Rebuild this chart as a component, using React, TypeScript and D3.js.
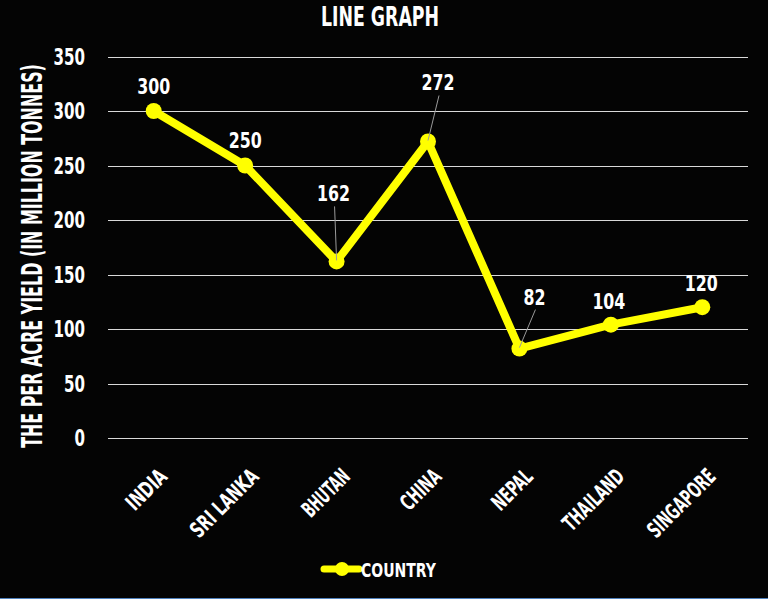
import { useEffect, useRef } from "react";
import * as d3 from "d3";

// data
const countries = ["INDIA", "SRI LANKA", "BHUTAN", "CHINA", "NEPAL", "THAILAND", "SINGAPORE"];
const yieldValues = [300, 250, 162, 272, 82, 104, 120];
const yTicks = [0, 50, 100, 150, 200, 250, 300, 350];
const seriesName = "COUNTRY";

// label placement (layout only): offset from point, and whether a leader line is drawn
const labelNudge: [number, number, boolean][] = [
  [0, -25, false],
  [0, -25, false],
  [-3, -68, true],
  [10, -59, true],
  [15, -52, true],
  [-2, -24, false],
  [-1, -24, false],
];

const W = 768;
const H = 599;
const FONT = "'Liberation Sans Narrow', 'DejaVu Sans Condensed', 'Arial Narrow', sans-serif";
const YELLOW = "#ffff00";

// squeeze a text horizontally (in its own frame) to a wanted width
function squeeze(
  node: SVGTextElement,
  base: string,
  width: number
) {
  const natural = node.getComputedTextLength() || width;
  node.setAttribute("transform", `${base} scale(${width / natural},1)`);
}

export default function App() {
  const svgRef = useRef<SVGSVGElement | null>(null);

  useEffect(() => {
    if (!svgRef.current) return;
    const svg = d3.select(svgRef.current);
    svg.selectAll("*").remove();

    svg.append("rect").attr("width", W).attr("height", H).attr("fill", "#040404");
    svg.append("line")
      .attr("x1", 0).attr("x2", W).attr("y1", H - 0.5).attr("y2", H - 0.5)
      .attr("stroke", "#4f81bd").attr("stroke-width", 1);

    const x = d3.scaleBand<string>().domain(countries).range([108, 748]);
    const y = d3.scaleLinear().domain([0, 350]).range([438, 56.5]);
    const cx = (c: string) => (x(c) ?? 0) + x.bandwidth() / 2;

    // gridlines
    svg.append("g")
      .selectAll("line")
      .data(yTicks)
      .join("line")
      .attr("x1", 108).attr("x2", 748)
      .attr("y1", (d) => Math.round(y(d)) + 0.5)
      .attr("y2", (d) => Math.round(y(d)) + 0.5)
      .attr("stroke", "#d9d9d9").attr("stroke-width", 1);

    // y tick labels
    svg.append("g")
      .selectAll<SVGTextElement, number>("text")
      .data(yTicks)
      .join("text")
      .attr("dy", "0.36em")
      .attr("text-anchor", "end")
      .attr("font-family", FONT).attr("font-weight", "bold").attr("font-size", 23)
      .attr("fill", "#fff")
      .text((d) => d)
      .each(function (d) {
        squeeze(this, `translate(85,${y(d)})`, String(d).length * 10.5);
      });

    // x labels, rotated and squeezed
    svg.append("g")
      .selectAll<SVGTextElement, string>("text")
      .data(countries)
      .join("text")
      .attr("text-anchor", "end")
      .attr("dy", "0.7em")
      .attr("font-family", FONT).attr("font-weight", "bold").attr("font-size", 22)
      .attr("fill", "#fff")
      .text((d) => d)
      .each(function (d) {
        squeeze(this, `translate(${cx(d) + 4},467) rotate(-45)`, d.length * 9.6);
      });

    // titles
    svg.append("text")
      .attr("text-anchor", "middle")
      .attr("font-family", FONT).attr("font-weight", "bold").attr("font-size", 27)
      .attr("fill", "#fff")
      .text("LINE GRAPH")
      .each(function () {
        squeeze(this as SVGTextElement, "translate(380,25.5)", 118);
      });

    svg.append("text")
      .attr("text-anchor", "middle")
      .attr("font-family", FONT).attr("font-weight", "bold").attr("font-size", 28)
      .attr("fill", "#fff")
      .text("THE PER ACRE YIELD (IN MILLION TONNES)")
      .each(function () {
        squeeze(this as SVGTextElement, "translate(42,256) rotate(-90)", 384);
      });

    const pts = countries.map((c, i) => ({ c, v: yieldValues[i], px: cx(c), py: y(yieldValues[i]), n: labelNudge[i] }));

    // line + markers
    const line = d3.line<{ px: number; py: number }>().x((d) => d.px).y((d) => d.py);
    svg.append("path")
      .datum(pts)
      .attr("d", line)
      .attr("fill", "none")
      .attr("stroke", YELLOW).attr("stroke-width", 8)
      .attr("stroke-linejoin", "round").attr("stroke-linecap", "round");

    svg.append("g")
      .selectAll("circle")
      .data(pts)
      .join("circle")
      .attr("cx", (d) => d.px).attr("cy", (d) => d.py).attr("r", 8)
      .attr("fill", YELLOW);

    // leader lines
    svg.append("g")
      .selectAll("line")
      .data(pts.filter((d) => d.n[2]))
      .join("line")
      .attr("x1", (d) => d.px + d.n[0] + 1).attr("y1", (d) => d.py + d.n[1] + 13)
      .attr("x2", (d) => d.px).attr("y2", (d) => d.py - 1)
      .attr("stroke", "#9a9a9a").attr("stroke-width", 1);

    // data labels
    svg.append("g")
      .selectAll<SVGTextElement, (typeof pts)[number]>("text")
      .data(pts)
      .join("text")
      .attr("dy", "0.36em")
      .attr("text-anchor", "middle")
      .attr("font-family", FONT).attr("font-weight", "bold").attr("font-size", 22)
      .attr("fill", "#fff")
      .text((d) => d.v)
      .each(function (d) {
        squeeze(this, `translate(${d.px + d.n[0]},${d.py + d.n[1]})`, String(d.v).length * 11);
      });

    // legend
    const lg = svg.append("g");
    lg.append("line")
      .attr("x1", 324).attr("x2", 359).attr("y1", 569).attr("y2", 569)
      .attr("stroke", YELLOW).attr("stroke-width", 7).attr("stroke-linecap", "round");
    lg.append("circle").attr("cx", 342).attr("cy", 569).attr("r", 7).attr("fill", YELLOW);
    lg.append("text")
      .attr("dy", "0.36em")
      .attr("font-family", FONT).attr("font-weight", "bold").attr("font-size", 19)
      .attr("fill", "#fff")
      .text(seriesName)
      .each(function () {
        squeeze(this as SVGTextElement, "translate(361,570)", 75);
      });
  }, []);

  return (
    <svg
      ref={svgRef}
      width={W}
      height={H}
      style={{ position: "absolute", left: 0, top: 0, display: "block" }}
    />
  );
}
